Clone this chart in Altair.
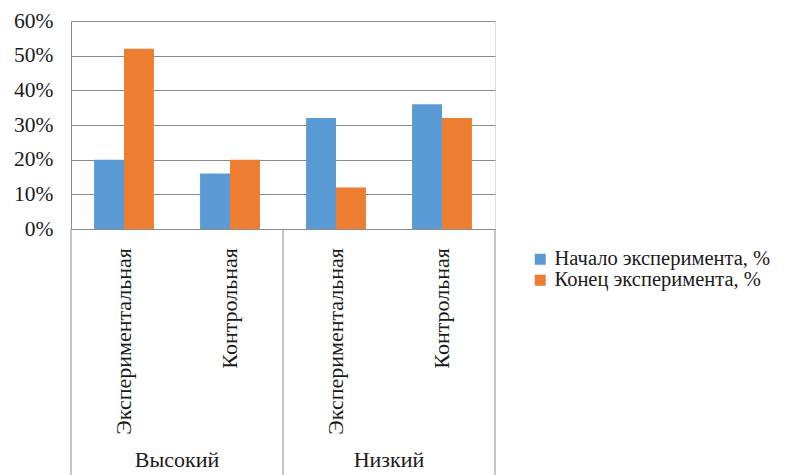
import altair as alt
import pandas as pd

groups = ["Высокий", "Высокий", "Низкий", "Низкий"]
subgroups = ["Экспериментальная", "Контрольная", "Экспериментальная", "Контрольная"]
series_names = ["Начало эксперимента, %", "Конец эксперимента, %"]
start_vals = [20, 16, 32, 36]
end_vals = [52, 20, 12, 32]
y_ticks = [0, 10, 20, 30, 40, 50, 60]
colors = ["#5B9BD5", "#ED7D31"]

keys = [f"{g}|{s}" for g, s in zip(groups, subgroups)]

rows = []
for k, g, s, a, b in zip(keys, groups, subgroups, start_vals, end_vals):
    rows.append({"key": k, "group": g, "sub": s, "series": series_names[0], "value": a})
    rows.append({"key": k, "group": g, "sub": s, "series": series_names[1], "value": b})
bars_df = pd.DataFrame(rows)

cats_df = pd.DataFrame({"key": keys, "sub": subgroups, "group": groups})

sep_left = pd.DataFrame({"key": [keys[0], keys[2]]})
sep_right = pd.DataFrame({"key": [keys[-1]]})
grp_df = pd.DataFrame({"key": [keys[0], keys[2]], "group": [groups[0], groups[2]]})

W, H = 424, 208
FONT = "Liberation Serif"
TXT = "#1a1a1a"
GRID = "#8c8c8c"

xscale = alt.Scale(domain=keys, paddingInner=0, paddingOuter=0)

bars = alt.Chart(bars_df).mark_bar().encode(
    x=alt.X("key:N", scale=xscale, axis=None, sort=keys),
    xOffset=alt.XOffset("series:N", sort=series_names,
                        scale=alt.Scale(paddingOuter=0.77, paddingInner=0)),
    y=alt.Y("value:Q", scale=alt.Scale(domain=[0, 60]),
            axis=alt.Axis(values=y_ticks, labelExpr="datum.value + '%'", title=None,
                          grid=True, gridColor=GRID, ticks=False,
                          domainColor=GRID, labelFont=FONT, labelFontSize=21.5,
                          labelColor=TXT, labelPadding=18)),
    color=alt.Color("series:N", sort=series_names,
                    scale=alt.Scale(domain=series_names, range=colors),
                    legend=alt.Legend(title=None, orient="none", legendX=459, legendY=228,
                                      symbolType="square", symbolSize=121,
                                      labelFont=FONT, labelFontSize=20.5, labelColor=TXT,
                                      labelLimit=400, rowPadding=0, padding=0,
                                      labelOffset=4, symbolStrokeWidth=0)),
)

sub_text = alt.Chart(cats_df).mark_text(
    angle=270, align="right", baseline="middle", font=FONT, fontSize=22, color=TXT, dx=-1
).encode(
    x=alt.X("key:N", scale=xscale, sort=keys),
    y=alt.value(H + 18),
    text="sub:N",
)

sep_l = alt.Chart(sep_left).mark_rule(color=GRID).encode(
    x=alt.X("key:N", scale=xscale, sort=keys, bandPosition=0),
    y=alt.value(H), y2=alt.value(H + 270),
)
sep_r = alt.Chart(sep_right).mark_rule(color=GRID).encode(
    x=alt.X("key:N", scale=xscale, sort=keys, bandPosition=1),
    y=alt.value(H), y2=alt.value(H + 270),
)

grp_text = alt.Chart(grp_df).mark_text(
    align="center", baseline="alphabetic", font=FONT, fontSize=22, color=TXT
).encode(
    x=alt.X("key:N", scale=xscale, sort=keys, bandPosition=1),
    y=alt.value(H + 238),
    text="group:N",
)

chart = alt.layer(bars, sub_text, sep_l, sep_r, grp_text).properties(
    width=W, height=H,
    autosize=alt.AutoSizeParams(type="none"),
    padding={"left": 71, "top": 21, "right": 291, "bottom": 246},
).configure_view(stroke=None).configure(background="white")

chart.save("out.html", embed_options={"renderer": "svg", "actions": False})
